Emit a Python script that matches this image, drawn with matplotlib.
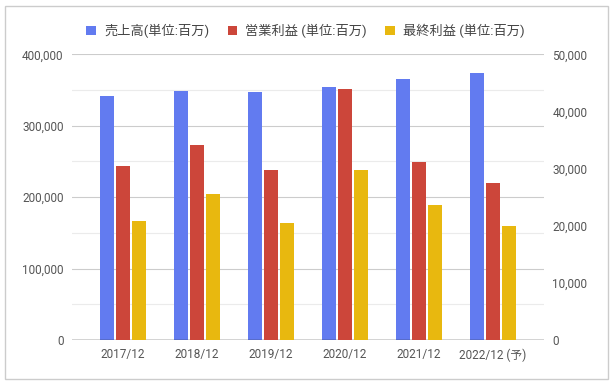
import matplotlib
matplotlib.use("Agg")
import matplotlib.pyplot as plt
from matplotlib.patches import Rectangle, Patch
from matplotlib.ticker import FuncFormatter, MultipleLocator
import numpy as np

plt.rcParams['font.family'] = ['Roboto', 'Noto Sans CJK JP', 'DejaVu Sans']

categories = ["2017/12", "2018/12", "2019/12", "2020/12", "2021/12", "2022/12 (予)"]
sales = [342000, 348600, 347200, 354200, 365400, 373800]
op_profit = [30450, 34100, 29750, 43900, 31150, 27480]
net_profit = [20800, 25550, 20530, 29750, 23630, 19950]
labels = ["売上高(単位:百万)", "営業利益 (単位:百万)", "最終利益 (単位:百万)"]
colors = ["#627BF0", "#CC463A", "#E8B80F"]

fig = plt.figure(figsize=(6.11, 3.82), dpi=100)
ax = fig.add_axes([72/611, 1-340/382, (544-72)/611, (340-54.3)/382])
ax2 = ax.twinx()

x = np.arange(len(categories))
w = 0.19
off = 0.216
ax.bar(x - off, sales, width=w, color=colors[0], zorder=3)
ax2.bar(x, op_profit, width=w, color=colors[1], zorder=3)
ax2.bar(x + off, net_profit, width=w, color=colors[2], zorder=3)

ax.set_xlim(-0.69, 5.69)
ax.set_ylim(0, 400000)
ax2.set_ylim(0, 50000)

ax.yaxis.set_major_locator(MultipleLocator(100000))
ax.yaxis.set_minor_locator(MultipleLocator(50000))
ax2.yaxis.set_major_locator(MultipleLocator(10000))
fmt = FuncFormatter(lambda v, p: f"{int(v):,}")
ax.yaxis.set_major_formatter(fmt)
ax2.yaxis.set_major_formatter(fmt)

ax.grid(axis='y', which='major', color='#cccccc', linewidth=0.8, zorder=0)
ax.grid(axis='y', which='minor', color='#ebebeb', linewidth=0.8, zorder=0)
ax.set_axisbelow(True)

for a in (ax, ax2):
    for s in ['top', 'right', 'left']:
        a.spines[s].set_visible(False)
    a.spines['bottom'].set_visible(False)
    a.tick_params(axis='both', which='both', length=0, colors='#555555', labelsize=8.5)
ax.axhline(0, color='#333333', linewidth=1.0, zorder=4)

ax.set_xticks(x)
ax.set_xticklabels(categories)
ax.tick_params(axis='x', pad=6)
ax.tick_params(axis='y', pad=6)
ax2.tick_params(axis='y', pad=6)

handles = [Patch(facecolor=c, edgecolor='none') for c in colors]
fig.legend(handles, labels, loc='center', bbox_to_anchor=(0.5, 1-31/382), ncol=3,
           frameon=False, fontsize=9.5, handlelength=0.75, handleheight=0.75,
           handletextpad=0.6, columnspacing=1.4, labelcolor='#444444')

fig.patches.append(Rectangle((5/611, 1-379/382), 603/611, 373/382, transform=fig.transFigure,
                             fill=False, edgecolor='#cccccc', linewidth=1.0))

fig.savefig("out.png", dpi=100)
